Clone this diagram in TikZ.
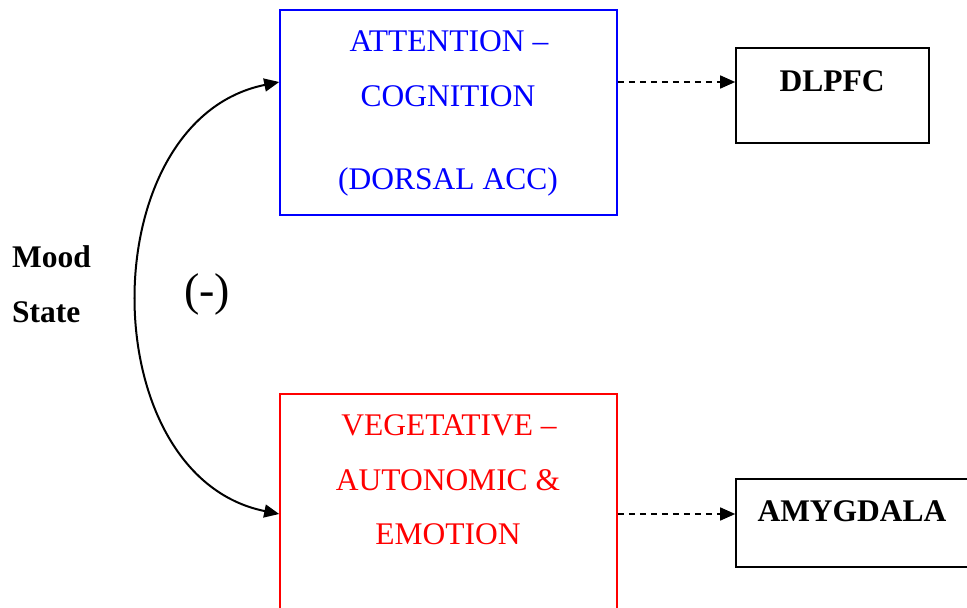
\documentclass[tikz,border=0pt]{standalone}
\usepackage{fontspec}
\setmainfont{Liberation Serif}
\usetikzlibrary{arrows.meta}
\begin{document}
\begin{tikzpicture}[x=1pt,y=-1pt,
  box/.style={draw, line width=1.6pt, inner sep=0pt},
  lbl/.style={anchor=base, inner sep=0pt, font=\fontsize{31.5}{38}\selectfont},
  blbl/.style={lbl, font=\fontsize{31.5}{38}\selectfont\bfseries},
  dasharrow/.style={line width=1.5pt, dash pattern=on 6pt off 5pt, -{Triangle[length=15pt,width=13pt]}},
  curvearrow/.style={line width=2pt, {Triangle[length=15pt,width=13pt]}-{Triangle[length=15pt,width=13pt]}}]
\useasboundingbox (0,0) rectangle (967,608);
\clip (0,0) rectangle (967,608);
% boxes
\node[box, draw=blue, minimum width=337pt, minimum height=205pt] (att) at (448.5,112.5) {};
\node[box, draw=red, minimum width=337pt, minimum height=226pt] (veg) at (448.5,507) {};
\node[box, minimum width=193pt, minimum height=95pt] (dlpfc) at (832.5,95.5) {};
\node[box, minimum width=239pt, minimum height=88pt] (amyg) at (855.5,523) {};
% texts
\node[lbl, text=blue] (t1) at (449,51) {ATTENTION –};
\node[lbl, text=blue] (t2) at (448,106) {COGNITION};
\node[lbl, text=blue] (t3) at (448,189) {(DORSAL ACC)};
\node[lbl, text=red] (t4) at (449,435) {VEGETATIVE –};
\node[lbl, text=red] (t5) at (448,490) {AUTONOMIC \&};
\node[lbl, text=red] (t6) at (448,544) {EMOTION};
\node[blbl] (t7) at (832,91) {DLPFC};
\node[blbl] (t8) at (852,521) {AMYGDALA};
\node[blbl, anchor=base west] (mood) at (12,267) {Mood};
\node[blbl, anchor=base west] (state) at (12,322) {State};
\node[inner sep=0pt, font=\fontsize{46}{52}\selectfont] (neg) at (207,294) {(-)};
% connectors
\draw[dasharrow] (att.east |- 0,82) -- (dlpfc.west |- 0,82);
\draw[dasharrow] (veg.east |- 0,514) -- (amyg.west |- 0,514);
\draw[curvearrow] (att.west |- 0,82) .. controls (91,120) and (91,476) .. (veg.west |- 0,514);
\end{tikzpicture}
\end{document}
